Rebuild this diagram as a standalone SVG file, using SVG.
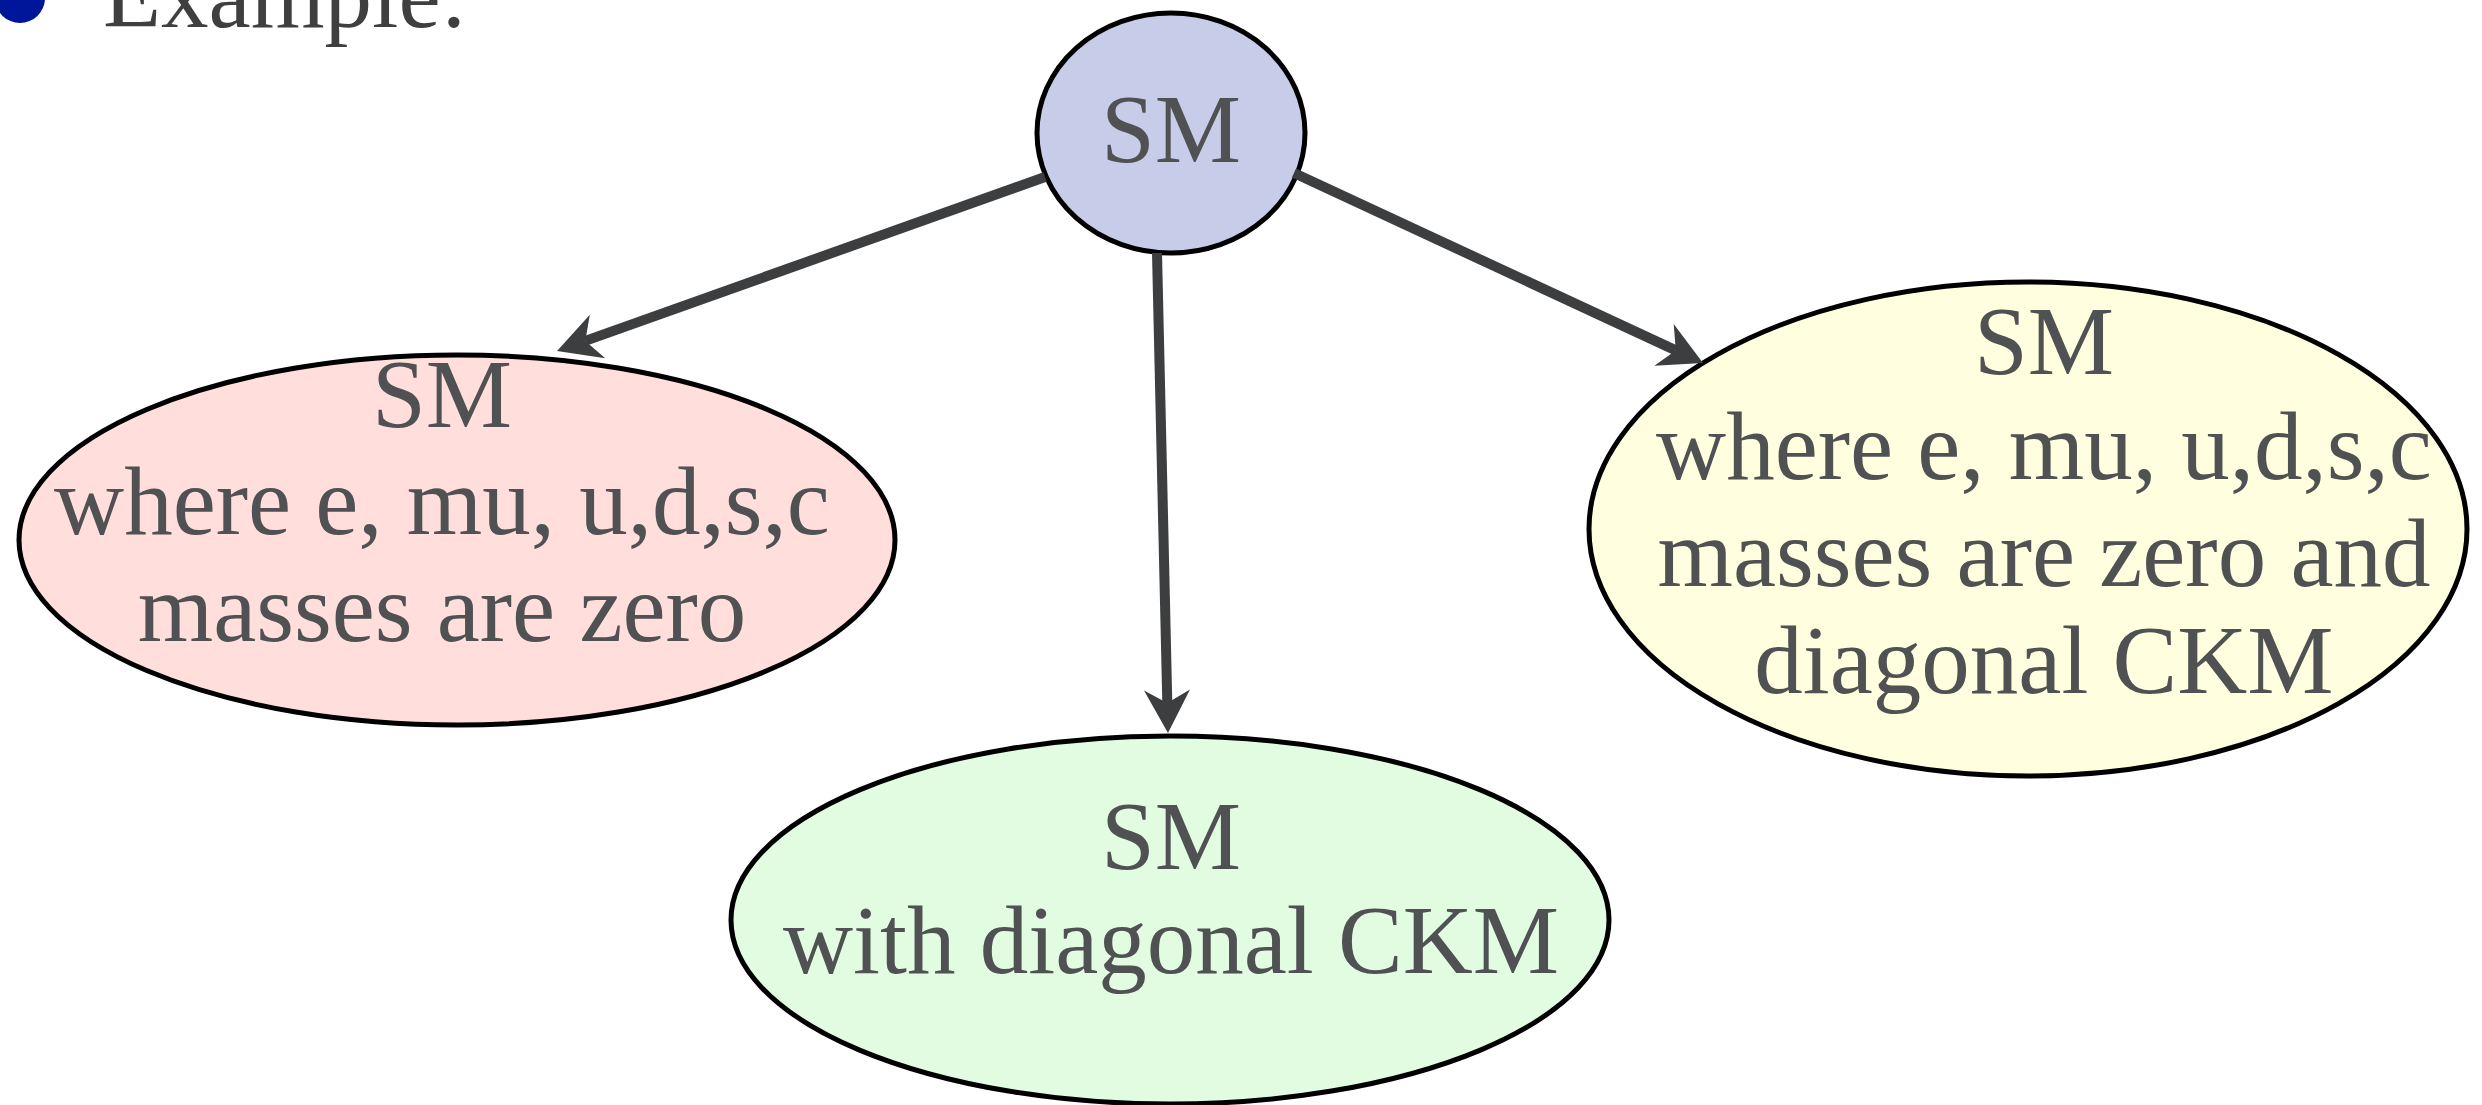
<svg xmlns="http://www.w3.org/2000/svg" width="2482" height="1105" viewBox="0 0 2482 1105">
  <style>
    .node { stroke: #000000; stroke-width: 5; }
    .label { font-family: "Liberation Serif", "Times New Roman", serif; font-size: 97px; fill: #4f5152; text-anchor: middle; }
    .edge { stroke: #3d3e40; stroke-width: 10; fill: none; marker-end: url(#head); }
  </style>
  <defs>
    <!-- concave arrowhead; the path end sits at the notch, the tip points 30 units ahead -->
    <marker id="head" markerUnits="userSpaceOnUse" viewBox="-15 -24 47 48" refX="0" refY="0" markerWidth="47" markerHeight="48" orient="auto">
      <path d="M30,0 L-13,-23 L0,0 L-13,23 Z" fill="#3d3e40"/>
    </marker>
  </defs>

  <rect width="2482" height="1105" fill="#ffffff"/>

  <!-- bullet line heading -->
  <g id="heading">
    <circle cx="20" cy="-2" r="25" fill="#00169a"/>
    <text x="103" y="27" style="font-family: 'Liberation Serif', 'Times New Roman', serif; font-size: 95px; fill: #3f3f3f;">Example:</text>
  </g>

  <g id="sm">
    <ellipse class="node" cx="1171" cy="133" rx="134" ry="120" fill="#c7cde8"/>
    <text class="label" x="1171" y="162">SM</text>
  </g>

  <g id="sm-light-masses">
    <ellipse class="node" cx="457" cy="540" rx="438" ry="185" fill="#ffdedb"/>
    <text class="label" x="442" y="427">SM</text>
    <text class="label" x="442" y="534">where e, mu, u,d,s,c</text>
    <text class="label" x="442" y="641">masses are zero</text>
  </g>

  <g id="sm-diagonal-ckm">
    <ellipse class="node" cx="1170" cy="920" rx="439" ry="184" fill="#e2fce2"/>
    <text class="label" x="1171" y="869">SM</text>
    <text class="label" x="1171" y="973">with diagonal CKM</text>
  </g>

  <g id="sm-light-masses-diagonal-ckm">
    <ellipse class="node" cx="2028" cy="529" rx="439" ry="247" fill="#ffffdf"/>
    <text class="label" x="2044" y="374">SM</text>
    <text class="label" x="2044" y="479">where e, mu, u,d,s,c</text>
    <text class="label" x="2044" y="586">masses are zero and</text>
    <text class="label" x="2044" y="693">diagonal CKM</text>
  </g>

  <g id="connectors">
    <line class="edge" x1="1045" y1="177" x2="585.3" y2="340.9"/>
    <line class="edge" x1="1157" y1="253" x2="1167.3" y2="703"/>
    <line class="edge" x1="1294" y1="173" x2="1675.8" y2="350.4"/>
  </g>
</svg>
